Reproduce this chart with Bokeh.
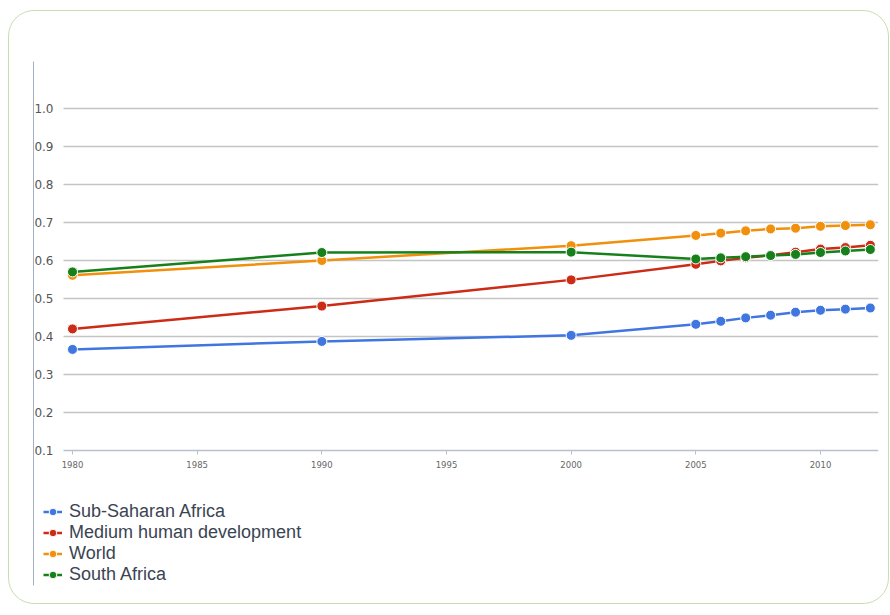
from bokeh.plotting import figure
from bokeh.models import (Range1d, FixedTicker, Legend, LegendItem, BoxAnnotation,
                          PrintfTickFormatter)
from bokeh.embed import file_html
from bokeh.resources import INLINE

years = [1980, 1990, 2000, 2005, 2006, 2007, 2008, 2009, 2010, 2011, 2012]
sub_saharan = [0.366, 0.387, 0.403, 0.432, 0.440, 0.449, 0.456, 0.464, 0.469, 0.472, 0.475]
medium_hd = [0.420, 0.480, 0.549, 0.590, 0.599, 0.607, 0.614, 0.622, 0.630, 0.634, 0.640]
world = [0.561, 0.600, 0.639, 0.666, 0.672, 0.678, 0.683, 0.685, 0.690, 0.692, 0.694]
south_africa = [0.570, 0.621, 0.622, 0.604, 0.607, 0.610, 0.613, 0.616, 0.621, 0.625, 0.629]

series_names = ["Sub-Saharan Africa", "Medium human development", "World", "South Africa"]
series_values = [sub_saharan, medium_hd, world, south_africa]
colors = ["#3f76e0", "#cc2b16", "#f0900c", "#16801a"]

x_ticks = [1980, 1985, 1990, 1995, 2000, 2005, 2010]
y_ticks = [0.1, 0.2, 0.3, 0.4, 0.5, 0.6, 0.7, 0.8, 0.9, 1.0]

X_START, X_END, GRID_START = 1978.436, 2012.327, 1979.639

p = figure(width=881, height=594, output_backend="svg", toolbar_location=None,
           x_range=Range1d(X_START, X_END), y_range=Range1d(-0.2553, 1.1237),
           min_border_left=24, min_border_right=12, min_border_top=50, min_border_bottom=20)
p.styles = {"border": "1px solid #c9ddb3", "border-radius": "26px",
            "margin-left": "8px", "margin-top": "10px"}
p.outline_line_color = None
p.background_fill_color = "white"
p.border_fill_color = None

# x axis drawn at the 0.1 gridline
xa = p.xaxis[0]
xa.fixed_location = 0.1
xa.bounds = (GRID_START, X_END)
xa.ticker = FixedTicker(ticks=x_ticks)
xa.axis_line_color = "#b9bfcc"
xa.axis_line_width = 1.5
xa.major_tick_line_color = "#b9bfcc"
xa.major_tick_in = 0
xa.major_tick_out = 4
xa.minor_tick_line_color = None
xa.major_label_text_font = "DejaVu Sans"
xa.major_label_text_font_size = "8.5px"
xa.major_label_text_color = "#666666"
xa.major_label_standoff = 7

# y axis: its line is the vertical divider, labels sit to the right of it
ya = p.yaxis[0]
ya.ticker = FixedTicker(ticks=y_ticks)
ya.formatter = PrintfTickFormatter(format="%.1f")
ya.axis_line_color = "#a3b0c4"
ya.axis_line_width = 1
ya.major_tick_line_color = None
ya.major_tick_out = 0
ya.major_tick_in = 0
ya.minor_tick_line_color = None
ya.major_label_text_font = "DejaVu Sans"
ya.major_label_text_font_size = "12px"
ya.major_label_text_color = "#555555"
ya.major_label_standoff = -20

p.xgrid.grid_line_color = None
p.ygrid.ticker = FixedTicker(ticks=y_ticks[1:])
p.ygrid.grid_line_color = "#c4c4c4"
p.ygrid.grid_line_width = 1.5

# keep the gridlines from reaching under the y labels
p.add_layout(BoxAnnotation(right=GRID_START, fill_color="white", fill_alpha=1,
                           line_color=None, level="underlay"))

items = []
for name, vals, c in zip(series_names, series_values, colors):
    ln = p.line(years, vals, line_color=c, line_width=2.5)
    sc = p.scatter(years, vals, size=10, fill_color=c, line_color="white", line_width=1)
    items.append(LegendItem(label=name, renderers=[ln, sc]))

legend = Legend(items=items, location=(10, 0), orientation="vertical")
legend.label_text_font = "Liberation Sans"
legend.label_text_font_size = "18px"
legend.label_text_color = "#3a4452"
legend.label_height = 19
legend.glyph_height = 19
legend.glyph_width = 19
legend.label_standoff = 7
legend.spacing = 0
legend.padding = 0
legend.margin = 0
legend.border_line_color = None
legend.background_fill_alpha = 0
p.add_layout(legend, "center")

open("out.html", "w").write(file_html(p, INLINE))
